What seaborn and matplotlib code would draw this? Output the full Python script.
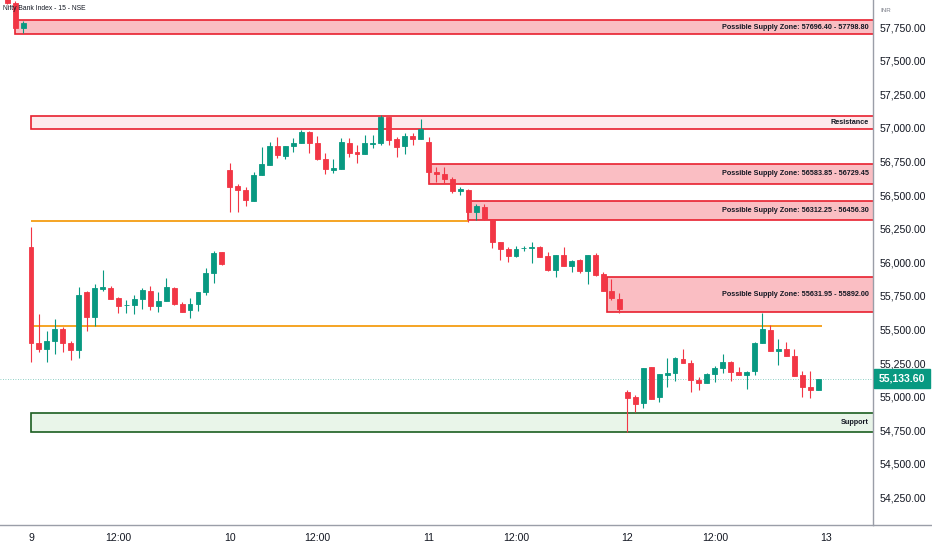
import numpy as np
import pandas as pd
import seaborn as sns
import matplotlib.pyplot as plt
from matplotlib.patches import Rectangle

# 15-minute candles, Bank Nifty (3 bars from previous session, then 9th-12th)
opens = [58060, 57926, 57740,
         56116, 55396, 55354, 55414, 55503, 55396, 55347, 55776, 55590, 55801, 55806, 55731, 55679,
         55682, 55724, 55788, 55674, 55711, 55811, 55689, 55644, 55687, 55778, 55922, 56073,
         56686, 56565, 56535, 56458, 56649, 56723, 56865, 56793, 56865, 56884, 56966, 56884, 56768,
         56684, 56693, 56884, 56822, 56805, 56879, 56884, 57078, 56914, 56865, 56939, 56914,
         56892, 56674, 56654, 56619, 56530, 56537, 56376, 56413, 56321, 56153, 56098, 56046, 56103,
         56103, 56116, 56046, 55942, 56054, 55974, 56016, 55937, 56054, 55912, 55788, 55724,
         55032, 54999, 54955, 55218, 54995, 55161, 55178, 55280, 55248, 55124, 55104, 55168, 55216,
         55255, 55186, 55161, 55191, 55397, 55496, 55342, 55352, 55302, 55161, 55069, 55049]
highs = [58110, 57945, 57797,
         56264, 55612, 55488, 55575, 55520, 55416, 55818, 55788, 55835, 55942, 55825, 55739, 55719,
         55756, 55806, 55825, 55781, 55880, 55818, 55706, 55731, 55781, 55954, 56083, 56078,
         56741, 56582, 56560, 56669, 56860, 56892, 56934, 56865, 56922, 56984, 56979, 56939, 56815,
         56765, 56922, 56922, 56872, 56946, 56946, 57095, 57083, 56934, 56959, 56959, 57063,
         56929, 56711, 56711, 56636, 56562, 56545, 56433, 56433, 56321, 56153, 56116, 56121, 56122,
         56153, 56121, 56078, 56054, 56116, 56016, 56021, 56054, 56066, 55930, 55873, 55773,
         55049, 55012, 55216, 55223, 55166, 55285, 55297, 55354, 55273, 55149, 55178, 55228, 55317,
         55268, 55218, 55191, 55409, 55620, 55533, 55426, 55409, 55352, 55191, 55191, 55131]
lows = [57920, 57740, 57703,
        55260, 55334, 55260, 55315, 55334, 55272, 55285, 55491, 55525, 55786, 55726, 55625, 55625,
        55612, 55649, 55644, 55632, 55711, 55682, 55632, 55587, 55639, 55756, 55848, 55982,
        56376, 56376, 56421, 56458, 56649, 56723, 56773, 56768, 56818, 56884, 56810, 56761, 56654,
        56666, 56693, 56785, 56736, 56805, 56847, 56872, 56872, 56785, 56803, 56872, 56914,
        56587, 56599, 56587, 56512, 56500, 56302, 56314, 56314, 56103, 56016, 56004, 56041, 56084,
        55997, 56041, 55937, 55892, 55974, 55930, 55922, 55835, 55898, 55788, 55719, 55625,
        54739, 54883, 54913, 54980, 54963, 55069, 55119, 55248, 55037, 55049, 55104, 55111, 55178,
        55119, 55161, 55054, 55161, 55397, 55340, 55235, 55302, 55156, 55000, 54987, 55049]
closes = [57930, 57745, 57777,
          55396, 55354, 55416, 55506, 55401, 55347, 55756, 55590, 55806, 55818, 55726, 55674, 55679,
          55726, 55793, 55674, 55711, 55818, 55687, 55632, 55687, 55778, 55917, 56071, 55987,
          56557, 56537, 56460, 56649, 56728, 56865, 56798, 56865, 56884, 56971, 56884, 56768, 56691,
          56699, 56892, 56815, 56805, 56884, 56889, 57083, 56909, 56860, 56939, 56914, 56991,
          56674, 56654, 56619, 56532, 56542, 56376, 56418, 56321, 56148, 56096, 56049, 56098, 56108,
          56116, 56041, 55942, 56054, 55974, 56011, 55937, 56054, 55905, 55788, 55731, 55649,
          54992, 54945, 55216, 54980, 55166, 55173, 55285, 55248, 55124, 55104, 55168, 55216, 55255,
          55186, 55161, 55186, 55397, 55501, 55340, 55352, 55302, 55156, 55074, 55049, 55133.6]
start_idx = -3

# zones: (label, low, high, start bar, face alpha)
zone_labels = ["Possible Supply Zone: 57696.40 - 57798.80", "Resistance",
               "Possible Supply Zone: 56583.85 - 56729.45", "Possible Supply Zone: 56312.25 - 56456.30",
               "Possible Supply Zone: 55631.95 - 55892.00"]
zone_low = [57696.40, 56991, 56583.85, 56312.25, 55631.95]
zone_high = [57798.80, 57088, 56729.45, 56456.30, 55892.00]
zone_start = [-2, 0, 50, 55, 72.5]
zone_alpha = [0.32, 0.1, 0.32, 0.32, 0.32]
support_low, support_high = 54737, 54878
orange_levels = [56307, 55526]
orange_end = [55, 99.5]
last_price = 55133.60

tick_pos = [0, 11, 25, 36, 50, 61, 75, 86, 100]
tick_lab = ["9", "12:00", "10", "12:00", "11", "12:00", "12", "12:00", "13"]

df = pd.DataFrame({"open": opens, "high": highs, "low": lows, "close": closes})
df["i"] = np.arange(len(df)) + start_idx
df["up"] = df["close"] >= df["open"]

sns.set_theme(style="white")
plt.rcParams["font.family"] = ["Liberation Sans", "DejaVu Sans"]

GREEN = "#089981"
RED = "#f23645"
INK = "#131722"

fig = plt.figure(figsize=(9.32, 5.5), dpi=100)
ax = fig.add_axes([0, 1 - 525 / 550, 873 / 932, 525 / 550])

x0, x1 = -3.9, 105.9
ax.set_xlim(x0, x1)
ax.set_ylim(54045, 57951)

# zones
for lab, lo, hi, st, al in zip(zone_labels, zone_low, zone_high, zone_start, zone_alpha):
    ax.add_patch(Rectangle((st, lo), x1 - st, hi - lo, facecolor=RED, alpha=al, edgecolor="none", zorder=1))
    ax.add_patch(Rectangle((st, lo), x1 - st + 1, hi - lo, facecolor="none", edgecolor="#e8202f", lw=1.2, zorder=2))
    ax.text(105.4, (lo + hi) / 2, lab, ha="right", va="center", fontsize=5.2, fontweight="bold",
            color=INK, zorder=5)

ax.add_patch(Rectangle((0, support_low), x1, support_high - support_low, facecolor="#4caf50", alpha=0.12,
                       edgecolor="none", zorder=1))
ax.add_patch(Rectangle((0, support_low), x1 + 1, support_high - support_low, facecolor="none",
                       edgecolor="#1b5e20", lw=1.2, zorder=2))
ax.text(105.4, (support_low + support_high) / 2, "Support", ha="right", va="center", fontsize=5.2,
        fontweight="bold", color=INK, zorder=5)

for lvl, e in zip(orange_levels, orange_end):
    ax.hlines(lvl, 0, e, color="#f59d12", lw=1.3, zorder=2)

ax.axhline(last_price, color=GREEN, lw=0.6, ls=(0, (1, 2)), alpha=0.6, zorder=1)

# candles
cols = np.where(df["up"], GREEN, RED)
ax.vlines(df["i"], df["low"], df["high"], colors=cols, lw=0.8, zorder=3)
body_lo = df[["open", "close"]].min(axis=1)
body_h = (df["close"] - df["open"]).abs()
ax.bar(df["i"], body_h, bottom=body_lo, width=0.62, color=cols, edgecolor=cols, linewidth=0.6, zorder=4)

# axes styling
ax.yaxis.tick_right()
ax.set_yticks(np.arange(54250, 57751, 250))
ax.set_yticklabels([f"{v:,.2f}" for v in np.arange(54250, 57751, 250)])
ax.set_xticks(tick_pos)
ax.set_xticklabels(tick_lab)
ax.tick_params(axis="both", length=0, labelsize=7.6, colors=INK)
ax.tick_params(axis="y", pad=5)
ax.tick_params(axis="x", pad=6)
sns.despine(ax=ax, top=True, left=True, right=False, bottom=False)
for s in ["right", "bottom"]:
    ax.spines[s].set_color("#9a9ea8")
    ax.spines[s].set_linewidth(1.0)

ax.annotate(f"{last_price:,.2f}", xy=(1.0, last_price), xycoords=("axes fraction", "data"),
            xytext=(4, 0), textcoords="offset points", ha="left", va="center", fontsize=7.6,
            fontweight="bold", color="white",
            bbox=dict(boxstyle="square,pad=0.45", fc=GREEN, ec=GREEN))

fig.text(880 / 932, 1 - 10 / 550, "INR", fontsize=4.5, color="#787b86", va="center")
fig.lines.append(plt.Line2D([873 / 932, 1], [1 - 525 / 550] * 2, transform=fig.transFigure,
                            color="#9a9ea8", lw=1.0))
ax.text(0.004, 0.983, "Nifty Bank Index - 15 - NSE", transform=ax.transAxes, fontsize=4.9,
        color=INK, va="center", ha="left", zorder=6)

fig.savefig("out.png", dpi=100)
